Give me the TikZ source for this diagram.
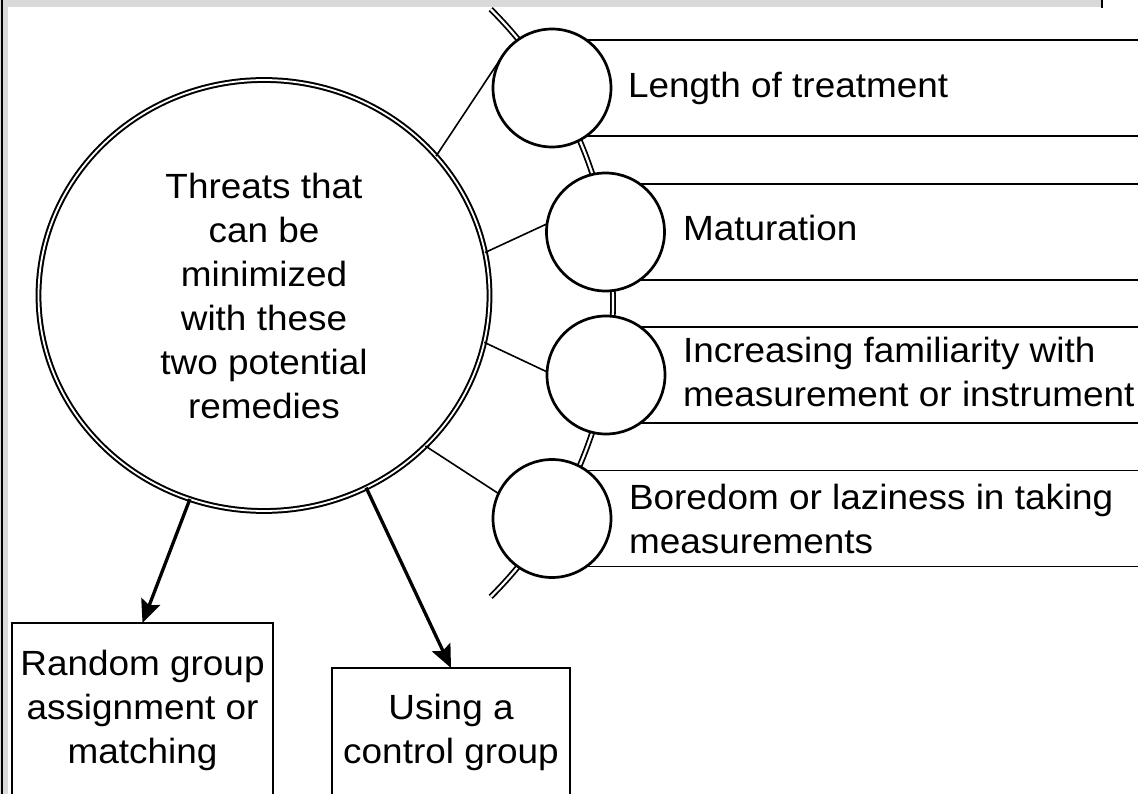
\documentclass[tikz,border=0pt]{standalone}
\usepackage{fontspec}
\setmainfont{Liberation Sans}[FakeStretch=1.055]
\usetikzlibrary{shapes.geometric,arrows.meta}
\definecolor{framegray}{RGB}{217,217,217}
\newcommand{\labelfont}{\fontsize{35}{44}\selectfont}
\begin{document}
\begin{tikzpicture}[x=1pt,y=-1pt,
  every node/.style={inner sep=0pt, outer sep=0pt},
  txt/.style={font=\labelfont, text=black},
  hub/.style={ellipse, draw, double, line width=2pt, double distance=1.8pt,
    fill=white, minimum width=451pt, minimum height=431pt, font=\labelfont, align=center},
  item/.style={circle, draw, fill=white, line width=2.7pt, minimum size=118pt},
  band/.style={rectangle, draw, line width=1.9pt, minimum width=640pt, minimum height=96pt, anchor=west},
  remedy/.style={rectangle, draw, line width=2.7pt, anchor=north, font=\labelfont, align=center},
  spoke/.style={line width=1.6pt},
  rail/.style={double, line width=1.8pt, double distance=2.2pt},
  push/.style={line width=3.3pt, -{Stealth[length=23pt,width=20pt,inset=4pt]}},
]
\useasboundingbox (0,0) rectangle (1138,794);
\clip (0,0) rectangle (1138,794);
\fill[white] (0,0) rectangle (1138,794);

% page frame: grey strips on the left and top edges
\fill[framegray] (0,0) rectangle (8,794);
\fill[framegray] (0,0) rectangle (1102,7);
\draw[line width=2pt] (1.5,0) -- (1.5,794);
\draw[line width=1.5pt] (1102,0) -- (1102,8);

% centres of the four threat circles and of the arc through them
\coordinate (p1) at (552,88);
\coordinate (p2) at (605.5,232);
\coordinate (p3) at (606,375);
\coordinate (p4) at (552,518.5);
\coordinate (pivot) at (199,303);

% label bands behind the threat circles
\node[band] (r1) at (p1) {};
\node[band] (r2) at (p2) {};
\node[band] (r3) at (p3) {};
\node[band] (r4) at (p4) {};

% arc linking the threat circles
\draw[rail] (pivot) ++(-45.2:414) arc[start angle=-45.2, end angle=45.2, radius=414];

% central circle
\node[hub] (hub) at (264,295.5)
  {Threats that\\can be\\minimized\\with these\\two potential\\remedies};

% threat circles
\node[item] (c1) at (p1) {};
\node[item] (c2) at (p2) {};
\node[item] (c3) at (p3) {};
\node[item] (c4) at (p4) {};

% spokes from the central circle
\draw[spoke] (hub.39.7) -- (c1.147);
\draw[spoke] (hub.11.5) -- (c2.172);
\draw[spoke] (hub.-12.7) -- (c3.177);
\draw[spoke] (hub.-43.3) -- (c4.155.5);

% threat labels
\node[txt, anchor=base west] (t1) at (628,98) {Length of treatment};
\node[txt, anchor=base west] (t2) at (683,241) {Maturation};
\node[txt, align=left, anchor=north west] (t3) at (683,337.5)
  {Increasing familiarity with\\measurement or instrument};
\node[txt, align=left, anchor=north west] (t4) at (629,484)
  {Boredom or laziness in taking\\measurements};

% remedies
\node[remedy, minimum width=261pt, minimum height=174pt] (b1) at (142.5,623)
  {Random group\\assignment or\\matching};
\node[remedy, minimum width=238pt, minimum height=129.5pt] (b2) at (451,668)
  {Using a\\control group};

\draw[push] (hub.-110) -- (b1.north);
\draw[push] (hub.-62.7) -- (b2.north);
\end{tikzpicture}
\end{document}
